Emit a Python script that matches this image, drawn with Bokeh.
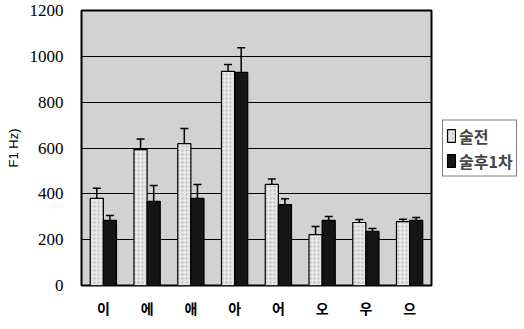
from bokeh.plotting import figure
from bokeh.models import ColumnDataSource, Whisker, Legend, LegendItem, FixedTicker, Range1d, TeeHead
from bokeh.transform import dodge
from bokeh.embed import file_html
from bokeh.resources import INLINE

vowels = ["이", "에", "애", "아", "어", "오", "우", "으"]
pre_vals = [380, 593, 619, 934, 441, 222, 275, 279]
pre_err = [44, 46, 66, 30, 24, 36, 13, 10]
post_vals = [284, 367, 380, 930, 353, 284, 236, 284]
post_err = [21, 69, 61, 108, 26, 17, 13, 13]
series_names = ["술전", "술후1차"]
y_ticks = [0, 200, 400, 600, 800, 1000, 1200]

src = ColumnDataSource(dict(
    x=vowels,
    pre=pre_vals, pre_lo=[v - e for v, e in zip(pre_vals, pre_err)], pre_hi=[v + e for v, e in zip(pre_vals, pre_err)],
    post=post_vals, post_lo=[v - e for v, e in zip(post_vals, post_err)], post_hi=[v + e for v, e in zip(post_vals, post_err)],
))

p = figure(x_range=vowels, y_range=Range1d(0, 1200), frame_width=350, frame_height=275,
           output_backend="svg", toolbar_location=None,
           min_border_left=81, min_border_top=10, min_border_bottom=6, min_border_right=0)
p.background_fill_color = "#d2d2d2"
p.border_fill_color = "white"
p.outline_line_color = "black"
p.outline_line_width = 2

w = 0.3
r1 = p.vbar(x=dodge("x", -w / 2, range=p.x_range), top="pre", width=w, source=src,
            fill_color="#e6e6e6", line_color="black", line_width=1.2,
            hatch_pattern="dot", hatch_color="#999999", hatch_scale=4, hatch_alpha=0.6)
r2 = p.vbar(x=dodge("x", w / 2, range=p.x_range), top="post", width=w, source=src,
            fill_color="#151515", line_color="black", line_width=1.2)

for base, lo, hi in [(-w / 2, "pre_lo", "pre_hi"), (w / 2, "post_lo", "post_hi")]:
    wk = Whisker(source=src, base=dodge("x", base, range=p.x_range), lower=lo, upper=hi,
                 line_color="black", line_width=1.5)
    wk.upper_head = TeeHead(size=8, line_color="black", line_width=1.5)
    wk.lower_head = TeeHead(size=8, line_color="black", line_width=1.5)
    p.add_layout(wk)

p.ygrid.grid_line_color = "black"
p.ygrid.grid_line_width = 1.2
p.xgrid.grid_line_color = None

p.yaxis.ticker = FixedTicker(ticks=y_ticks)
p.yaxis.axis_line_color = None
p.yaxis.major_tick_line_color = None
p.yaxis.minor_tick_line_color = None
p.yaxis.major_label_text_font = "Liberation Sans Narrow"
p.yaxis.major_label_text_font_size = "17px"
p.yaxis.major_label_text_color = "black"
p.yaxis.major_label_standoff = 12
p.yaxis.axis_label = "F1 Hz)"
p.yaxis.axis_label_text_font = "Liberation Sans"
p.yaxis.axis_label_text_font_style = "normal"
p.yaxis.axis_label_text_font_size = "13px"
p.yaxis.axis_label_text_color = "black"
p.yaxis.axis_label_standoff = 6

p.xaxis.axis_line_color = None
p.xaxis.major_tick_line_color = None
p.xaxis.major_label_text_font = "Noto Sans CJK KR"
p.xaxis.major_label_text_font_style = "bold"
p.xaxis.major_label_text_font_size = "14px"
p.xaxis.major_label_text_color = "black"
p.xaxis.major_label_standoff = 6

legend = Legend(items=[LegendItem(label=series_names[0], renderers=[r1]),
                       LegendItem(label=series_names[1], renderers=[r2])],
                location="center_left")
legend.label_text_font = "Noto Sans CJK KR"
legend.label_text_font_style = "bold"
legend.label_text_font_size = "16px"
legend.border_line_color = "black"
legend.border_line_width = 1.5
legend.padding = 3
legend.spacing = 1
legend.margin = 11
legend.glyph_width = 10
legend.glyph_height = 16
legend.label_standoff = 3
legend.label_height = 16
p.add_layout(legend, "right")

open("out.html", "w").write(file_html(p, INLINE))
